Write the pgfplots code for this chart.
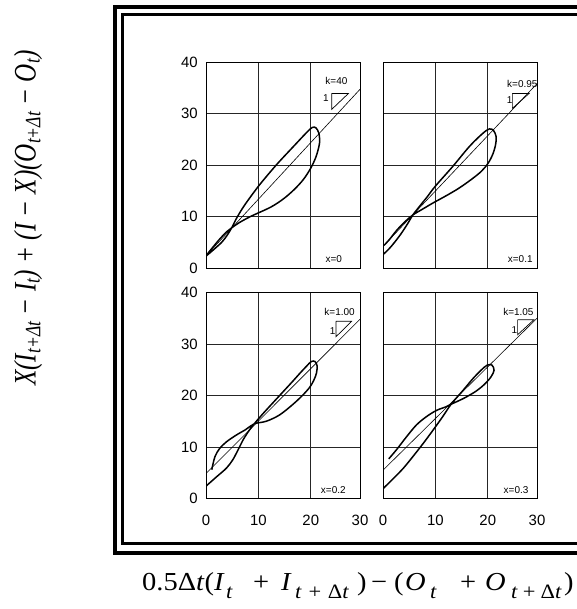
\documentclass[border=0pt]{standalone}
\usepackage{fontspec}
\setmainfont{Liberation Serif}
\newfontfamily\arial{Liberation Sans}
\usepackage{pgfplots}
\pgfplotsset{compat=1.18}

\tikzset{
  small/.style={font=\fontsize{10}{12}\arial, inner sep=0pt},
  xl/.style={anchor=base west, inner sep=0pt, font=\fontsize{26}{30}\selectfont},
  xs/.style={anchor=base west, inner sep=0pt, font=\fontsize{20.5}{24}\selectfont},
}
\newcommand{\wide}[1]{\scalebox{1.1}[1]{#1}}
\pgfplotsset{
  panel/.style={
    scale only axis, width=154bp, height=206bp,
    xmin=0, xmax=29.4, ymin=0, ymax=40,
    xtick={0,10,20,29.4}, xticklabels={0,10,20,30},
    ytick={0,10,20,30,40},
    grid=major, major grid style={black!85, line width=0.8bp},
    axis line style={black, line width=0.8bp},
    major tick length=0pt,
    tick label style={font=\fontsize{15}{17}\arial},
    yticklabel style={anchor=east, inner sep=0pt, xshift=-8bp},
    xticklabel style={anchor=north, inner sep=0pt, yshift=-16bp},
    clip mode=individual,
    /pgf/number format/assume math mode=true,
  },
  loopcurve/.style={black, line width=1.5bp, smooth, tension=0.55},
  fitline/.style={black, line width=0.6bp},
  tri/.style={black, line width=0.7bp},
}

\begin{document}
\begin{tikzpicture}
\useasboundingbox (0,0) rectangle (577bp,-609bp);

% double frame
\draw[line width=4bp] (114.7bp,-6.7bp) rectangle (600bp,-552.5bp);
\draw[line width=3.5bp] (122.3bp,-14.3bp) rectangle (600bp,-543.5bp);

% x = 0
\begin{axis}[panel, at={(206bp,-268bp)}, anchor=south west, xticklabels={}]
  \addplot[fitline] coordinates {(0,2.35) (29.4,34.7)};
  \addplot[loopcurve] coordinates {
    (0,2.3) (1.5,3.6) (3.0,5.0) (4.0,6.3) (4.9,7.8) (5.8,9.6) (7.1,11.8)
    (8.7,14.1) (10.5,16.5) (13.5,20.1) (16.7,23.6) (19.2,26.3) (20.3,27.3)
    (21.0,27.2) (21.5,26.3) (21.7,25.0) (21.6,23.8) (21.0,21.6) (20.0,19.4)
    (18.6,17.2) (16.8,15.2) (14.75,13.4) (12.5,11.9) (10.0,10.7) (8.5,10.0)
    (6.5,8.9) (4.9,7.8) (3.9,7.0) (2.6,5.6) (1.2,3.9) (0.1,2.5)};
  \addplot[tri] coordinates {(24.0,33.9) (27.2,33.9) (24.0,30.8) (24.0,33.9)};
  \node[small] at (axis cs:24.9,36.3) {k=40};
  \node[small] at (axis cs:22.9,33.0) {1};
  \node[small] at (axis cs:24.4,1.7) {x=0};
\end{axis}

% x = 0.1
\begin{axis}[panel, at={(383bp,-268bp)}, anchor=south west, xticklabels={}, yticklabels={}]
  \addplot[fitline] coordinates {(0,4.2) (29.4,35.8)};
  \addplot[loopcurve] coordinates {
    (0,2.6) (1.4,4.0) (3.2,6.3) (4.7,8.6) (5.7,10.3) (7.0,12.0) (8.5,13.9)
    (10.0,15.9) (13.3,19.7) (16.5,23.6) (19.0,26.1) (20.3,27.0) (21.1,26.7)
    (21.6,25.5) (21.5,24.0) (21.0,22.2) (20.1,20.4) (18.8,18.8) (17.0,17.3)
    (14.5,15.5) (12.0,14.0) (9.5,12.6) (7.5,11.4) (5.7,10.3) (4.2,9.0)
    (2.6,7.3) (1.2,5.5) (0.2,4.4)};
  \addplot[tri] coordinates {(24.7,33.9) (27.9,33.9) (24.7,31.0) (24.7,33.9)};
  \node[small] at (axis cs:26.6,35.7) {k=0.95};
  \node[small] at (axis cs:24.2,32.6) {1};
  \node[small] at (axis cs:26.2,1.7) {x=0.1};
\end{axis}

% x = 0.2
\begin{axis}[panel, at={(206bp,-498.5bp)}, anchor=south west]
  \addplot[fitline] coordinates {(0,4.85) (29.4,34.8)};
  \addplot[loopcurve] coordinates {
    (0,2.4) (2.0,4.2) (3.9,5.9) (5.1,7.5) (6.1,9.4) (7.2,11.6) (8.3,13.3)
    (9.2,14.5) (10.9,16.5) (12.7,18.5) (14.6,20.6) (16.5,22.7) (18.0,24.4)
    (19.2,25.7) (20.1,26.6) (20.8,26.6) (21.2,25.8) (21.1,24.4) (20.6,23.0)
    (19.8,21.6) (18.4,20.0) (16.5,18.2) (14.0,16.2) (11.5,15.0) (9.2,14.5)
    (7.6,13.4) (5.75,12.3) (3.9,11.0) (2.6,9.7) (1.7,8.1) (1.1,5.6)};
  \addplot[tri] coordinates {(24.8,34.4) (27.8,34.4) (24.8,31.4) (24.8,34.4)};
  \node[small] at (axis cs:25.5,36.2) {k=1.00};
  \node[small] at (axis cs:24.2,32.6) {1};
  \node[small] at (axis cs:24.3,1.6) {x=0.2};
\end{axis}

% x = 0.3
\begin{axis}[panel, at={(383bp,-498.5bp)}, anchor=south west, yticklabels={}]
  \addplot[fitline] coordinates {(0,5.5) (29.4,35.0)};
  \addplot[loopcurve] coordinates {
    (0,1.9) (2.0,3.9) (3.9,5.9) (5.75,8.2) (7.6,10.6) (9.5,13.2) (11.4,15.9)
    (13.0,18.3) (15.2,20.9) (17.1,23.2) (18.7,24.9) (19.9,25.9) (20.8,25.9)
    (21.2,24.9) (20.6,23.6) (19.4,22.2) (17.7,20.8) (15.5,19.5) (13.0,18.3)
    (12.0,17.8) (10.2,17.1) (8.3,15.9) (6.4,14.3) (4.5,12.0) (2.6,9.5)
    (1.1,7.7)};
  \addplot[tri] coordinates {(25.7,34.7) (28.8,34.7) (25.7,31.8) (25.7,34.7)};
  \node[small] at (axis cs:25.85,36.2) {k=1.05};
  \node[small] at (axis cs:25.1,32.7) {1};
  \node[small] at (axis cs:25.4,1.6) {x=0.3};
\end{axis}

% vertical axis title
\node[rotate=90, inner sep=0pt] at (28bp,-218bp)
  {\scalebox{0.9}[1.12]{\fontsize{28}{32}\selectfont\itshape
   X(I\textsubscript{t+Δt} − I\textsubscript{t}) + (I − X)(O\textsubscript{t+Δt} − O\textsubscript{t})}};

% horizontal axis title, set piece by piece
\node[xl] at (142bp,-590bp) {\wide{0.5Δ\textit{t}(}};
\node[xl] at (214bp,-590bp) {\wide{\textit{I}}};
\node[xs] at (226bp,-598bp) {\wide{\textit{t}}};
\node[xl] at (253bp,-590bp) {\wide{+}};
\node[xl] at (281bp,-590bp) {\wide{\textit{I}}};
\node[xs] at (295bp,-598bp) {\wide{\makebox[49bp][s]{\textit{t} + Δ\textit{t}}}};
\node[xl] at (357bp,-590bp) {\wide{)}};
\node[xl] at (371bp,-590bp) {\wide{−}};
\node[xl] at (394bp,-590bp) {\wide{(}};
\node[xl] at (405bp,-590bp) {\wide{\textit{O}}};
\node[xs] at (430bp,-598bp) {\wide{\textit{t}}};
\node[xl] at (460bp,-590bp) {\wide{+}};
\node[xl] at (485bp,-590bp) {\wide{\textit{O}}};
\node[xs] at (511bp,-598bp) {\wide{\makebox[46bp][s]{\textit{t} + Δ\textit{t}}}};
\node[xl] at (564bp,-590bp) {\wide{)}};
\end{tikzpicture}
\end{document}
